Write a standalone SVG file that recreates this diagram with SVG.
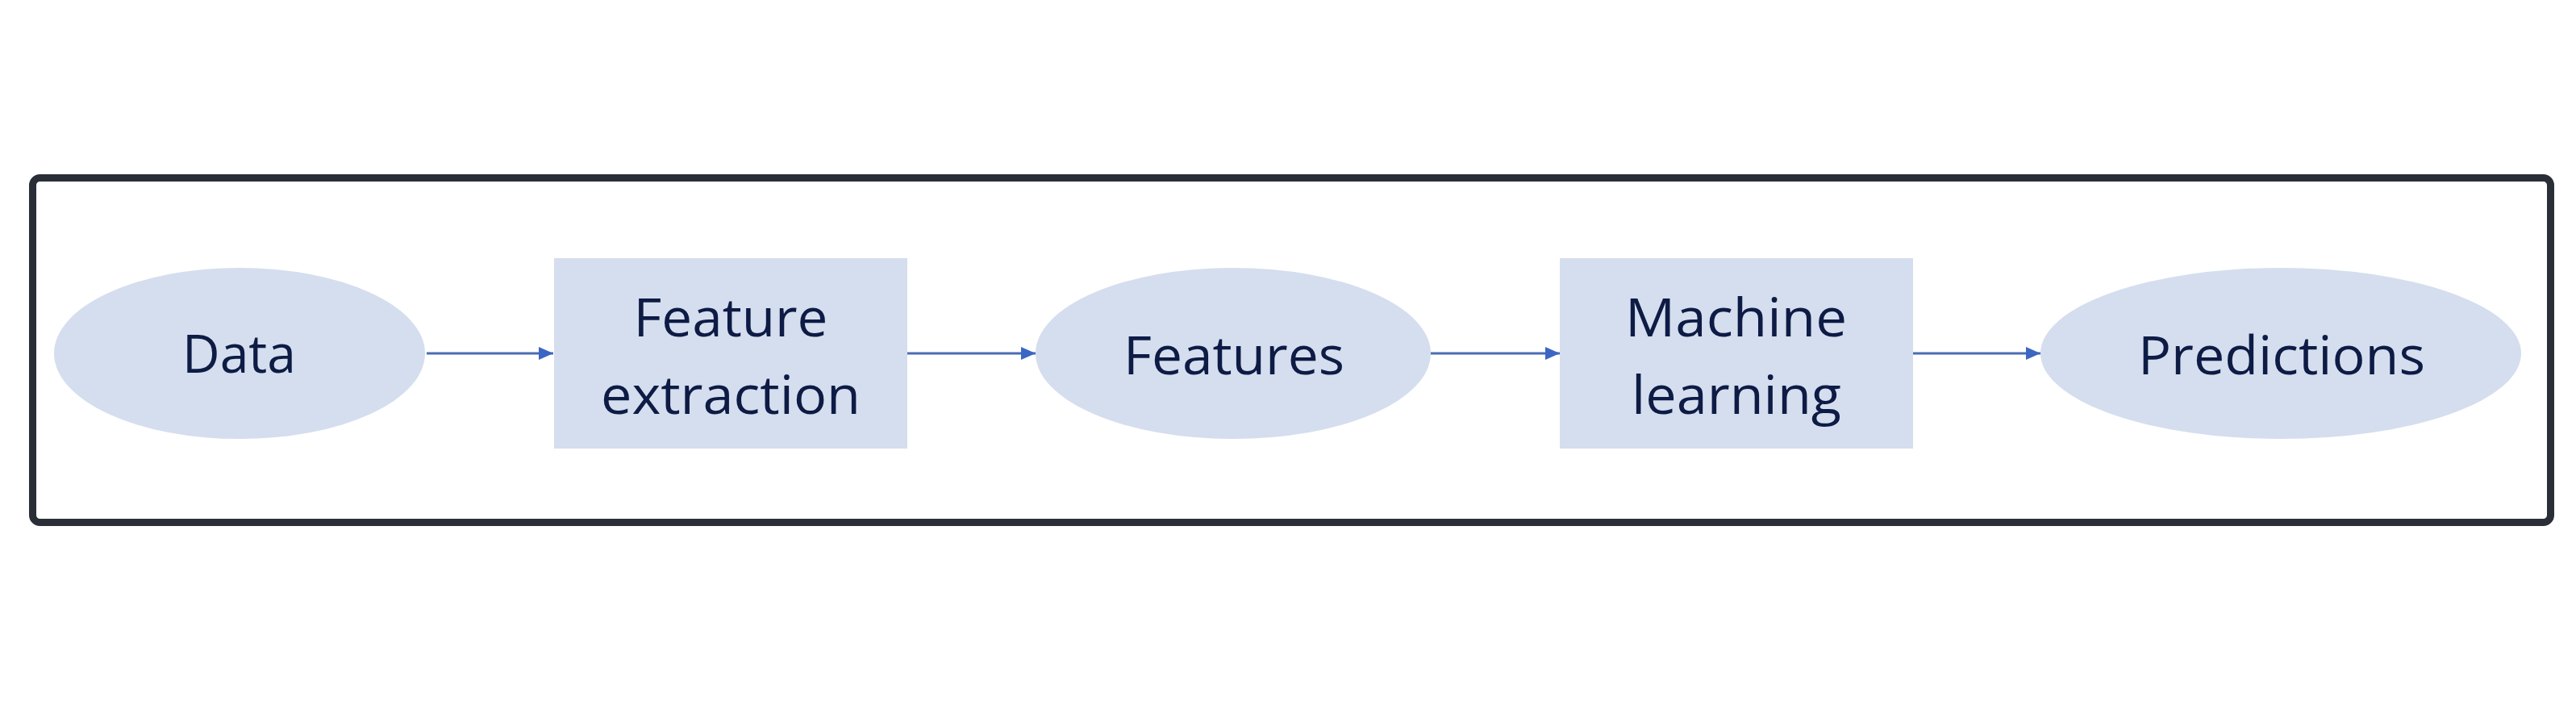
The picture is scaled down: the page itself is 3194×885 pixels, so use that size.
<svg xmlns="http://www.w3.org/2000/svg" width="3194" height="885" viewBox="0 0 3194 885">
<style>
.node{fill:#d5deee;}
.lbl{font-family:"Open Sans","Liberation Sans",sans-serif;font-size:66px;fill:#0d1b45;text-anchor:middle;}
.conn{stroke:#4a6cb3;stroke-width:3;fill:none;}
</style>
<defs>
<marker id="ah" markerUnits="userSpaceOnUse" markerWidth="20" markerHeight="18" refX="18" refY="9" orient="auto">
<path d="M0,1 L18,9 L0,17 Z" fill="#3b66c3"/>
</marker>
</defs>
<rect width="3194" height="885" fill="#ffffff"/>
<rect id="frame" x="40.5" y="220.5" width="3122" height="427" rx="9" fill="#ffffff" stroke="#2a2e36" stroke-width="9"/>
<g id="connectors">
<line class="conn" x1="529" y1="438" x2="686" y2="438" marker-end="url(#ah)"/>
<line class="conn" x1="1125" y1="438" x2="1284" y2="438" marker-end="url(#ah)"/>
<line class="conn" x1="1774" y1="438" x2="1934" y2="438" marker-end="url(#ah)"/>
<line class="conn" x1="2372" y1="438" x2="2530" y2="438" marker-end="url(#ah)"/>
</g>
<g id="data">
<ellipse class="node" cx="297" cy="438" rx="230" ry="106"/>
<text class="lbl" x="296.5" y="462" textLength="141" lengthAdjust="spacingAndGlyphs">Data</text>
</g>
<g id="feature-extraction">
<rect class="node" x="687" y="320" width="438" height="236"/>
<text class="lbl" x="906" y="417" textLength="241" lengthAdjust="spacingAndGlyphs">Feature</text>
<text class="lbl" x="906" y="513" textLength="322" lengthAdjust="spacingAndGlyphs">extraction</text>
</g>
<g id="features">
<ellipse class="node" cx="1529" cy="438" rx="245" ry="106"/>
<text class="lbl" x="1530" y="464" textLength="274" lengthAdjust="spacingAndGlyphs">Features</text>
</g>
<g id="machine-learning">
<rect class="node" x="1934" y="320" width="438" height="236"/>
<text class="lbl" x="2152.5" y="417" textLength="275" lengthAdjust="spacingAndGlyphs">Machine</text>
<text class="lbl" x="2153" y="513" textLength="260" lengthAdjust="spacingAndGlyphs">learning</text>
</g>
<g id="predictions">
<ellipse class="node" cx="2828" cy="438" rx="298" ry="106"/>
<text class="lbl" x="2829" y="464" textLength="356" lengthAdjust="spacingAndGlyphs">Predictions</text>
</g>
</svg>
